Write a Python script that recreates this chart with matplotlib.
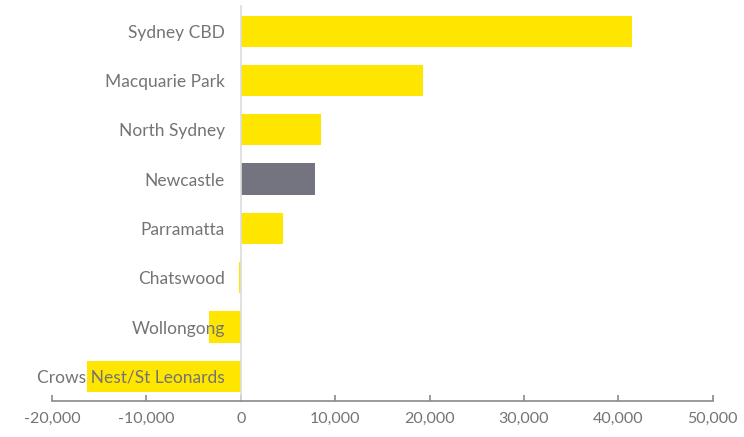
import matplotlib.pyplot as plt
import numpy as np

plt.rcParams['font.family'] = ['Lato', 'DejaVu Sans']

# Net change by location
locations = ['Sydney CBD', 'Macquarie Park', 'North Sydney', 'Newcastle',
             'Parramatta', 'Chatswood', 'Wollongong', 'Crows Nest/St Leonards']
values = [41500, 19300, 8500, 7900, 4450, -200, -3400, -16300]
highlight = 'Newcastle'

yellow = '#FFE600'
grey_bar = '#747480'
text_grey = '#747474'

fig = plt.figure(figsize=(7.44, 4.37), dpi=100)
ax = fig.add_axes([0.0699, 0.0824, 0.888, 0.903])

y = np.arange(len(locations))
colors = [grey_bar if loc == highlight else yellow for loc in locations]
ax.barh(y, values, height=0.63, color=colors, zorder=1)

ax.set_ylim(len(locations) - 0.5, -0.5)
ax.set_xlim(-20000, 50000)

# y labels sit next to the zero line
ax.spines['left'].set_position(('data', 0))
ax.spines['left'].set_color('#dcdcdc')
ax.spines['left'].set_linewidth(1.2)
ax.spines['top'].set_visible(False)
ax.spines['right'].set_visible(False)
ax.spines['bottom'].set_color('#8a8a8a')
ax.spines['bottom'].set_linewidth(1.2)

ax.set_yticks(y)
ax.set_yticklabels(locations)
ax.tick_params(axis='y', length=0, pad=11.5, labelsize=12.5, labelcolor=text_grey)

ax.set_xticks(np.arange(-20000, 50001, 10000))
ax.set_xticklabels([f'{v:,}' for v in range(-20000, 50001, 10000)])
ax.tick_params(axis='x', direction='in', length=4, width=1.2, color='#8a8a8a',
               pad=8, labelsize=11.5, labelcolor=text_grey)

fig.savefig('out.png', dpi=100)
